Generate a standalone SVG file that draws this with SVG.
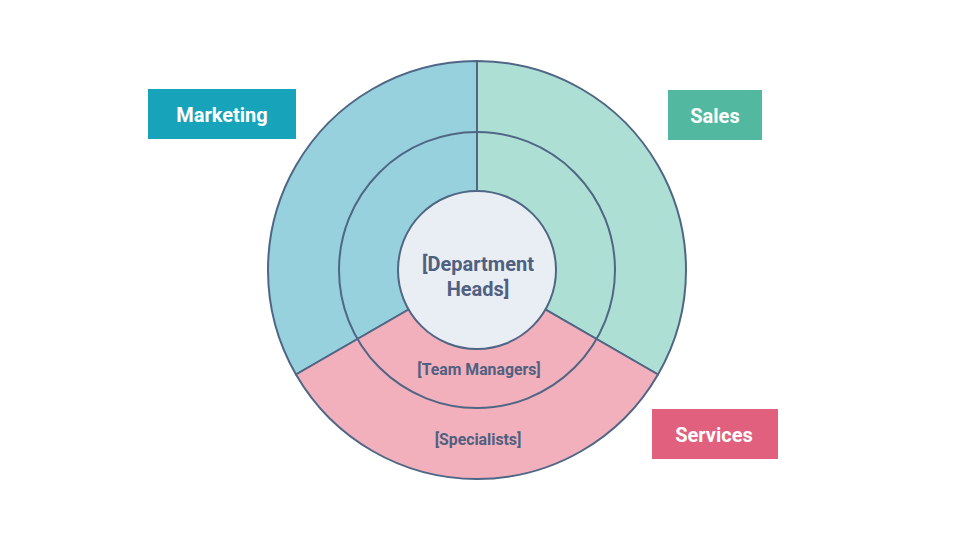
<svg xmlns="http://www.w3.org/2000/svg" width="960" height="548" viewBox="0 0 960 548">
<style>
.seg{stroke:#4f6685;stroke-width:2;stroke-linejoin:round}
.ln{stroke:#4f6685;stroke-width:2;fill:none}
.lbl{font-family:Roboto,"Liberation Sans",sans-serif;font-weight:bold;fill:#4f6080;text-anchor:middle}
.tag{font-family:Roboto,"Liberation Sans",sans-serif;font-weight:bold;fill:#ffffff;text-anchor:middle;font-size:20px}
</style>
<rect width="960" height="548" fill="#ffffff"/>
<g id="marketing-sector"><path class="seg" fill="#96d1dd" d="M477,270 L296,374.5 A209,209 0 0 1 477,61 Z"/></g>
<g id="sales-sector"><path class="seg" fill="#aedfd4" d="M477,270 L477,61 A209,209 0 0 1 658,374.5 Z"/></g>
<g id="services-sector"><path class="seg" fill="#f2afbc" d="M477,270 L658,374.5 A209,209 0 0 1 296,374.5 Z"/></g>
<g id="connectors">
<circle class="ln" cx="477" cy="270" r="138"/>
</g>
<g id="team-managers"><text class="lbl" x="479" y="375" font-size="15.8" font-weight="600">[Team Managers]</text></g>
<g id="specialists"><text class="lbl" x="478" y="445" font-size="15.8" font-weight="600">[Specialists]</text></g>
<g id="department-heads">
<circle cx="477" cy="270" r="79" fill="#e9eef5" stroke="#4f6685" stroke-width="2"/>
<text class="lbl" x="478" y="271" font-size="20">[Department</text>
<text class="lbl" x="478" y="296" font-size="20">Heads]</text>
</g>
<g id="marketing"><rect x="148" y="89" width="148" height="50" fill="#17a3b9"/><text class="tag" x="222" y="121.5">Marketing</text></g>
<g id="sales"><rect x="668" y="90" width="94" height="50" fill="#52b9a0"/><text class="tag" x="715" y="122.5">Sales</text></g>
<g id="services"><rect x="652" y="409" width="126" height="50" fill="#e0607e"/><text class="tag" x="714" y="441.5">Services</text></g>
</svg>
